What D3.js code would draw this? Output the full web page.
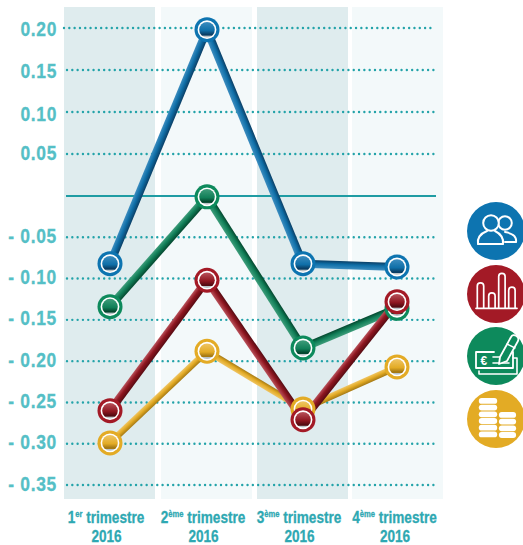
<!DOCTYPE html>
<html><head><meta charset="utf-8">
<script src="https://cdn.jsdelivr.net/npm/d3@7"></script>
<style>
html,body{margin:0;padding:0;background:#fff;overflow:hidden}
svg{display:block}
text{font-family:"Liberation Sans",Arial,sans-serif;font-weight:700}
</style></head><body><div id="c"></div>
<script>
const quarters=["T1","T2","T3","T4"];
const quarterNum=["1","2","3","4"];
const quarterSup=["er","ème","ème","ème"];
const yearLabel="2016";
const ticks=[0.20,0.15,0.10,0.05,-0.05,-0.10,-0.15,-0.20,-0.25,-0.30,-0.35];
const blueVals=[-0.082,0.198,-0.082,-0.086];
const greenVals=[-0.134,-0.001,-0.184,-0.136];
const redVals=[-0.26,-0.102,-0.271,-0.128];
const goldVals=[-0.299,-0.188,-0.258,-0.207];
const seriesOrder=[
 {k:"gold",v:goldVals,c:"#e3ab25",l:"#efc564",d:"#a67a14",w:6.5,r:"#e3ab25"},
 {k:"green",v:greenVals,c:"#117f58",l:"#3f9d7b",d:"#04482f",w:8,r:"#0d8a5c"},
 {k:"blue",v:blueVals,c:"#0f6fa8",l:"#3d8dbf",d:"#0a3f66",w:8,r:"#0d74b0"},
 {k:"red",v:redVals,c:"#8e1620",l:"#b9525b",d:"#560b12",w:8,r:"#a31a26"}
];
const W=523,H=545;
const svg=d3.select("#c").append("svg").attr("width",W).attr("height",H);
const defs=svg.append("defs");
const x=d3.scaleOrdinal().domain(quarters).range([110,207,303,397]);
const bandX=d3.scaleOrdinal().domain(quarters).range([64,161,257,352]);
const y=d3.scaleLinear().domain([-0.35,0,0.2]).range([485,196,28]);
const labelY=d3.scaleLinear().domain([-0.35,-0.05,0.05,0.1,0.2]).range([483,235,152,113,28]);
const bandFill=["#dfecee","#f3f9fa","#dfecee","#f3f9fa"];
svg.selectAll(".b").data(quarters).join("rect")
 .attr("x",d=>bandX(d)).attr("width",91).attr("y",7).attr("height",492)
 .attr("fill",(d,i)=>bandFill[i]);
const dot=d3.format(".2f");
const narrow=(px,py,anchor,size,fill,sx)=>svg.append("text")
 .attr("transform",`translate(${px},${py}) scale(${sx},1)`)
 .attr("text-anchor",anchor).attr("font-size",size).attr("fill",fill)
 .attr("stroke",fill).attr("stroke-width",0.3);
ticks.forEach(t=>{
 svg.append("line").attr("x1",t===0.2?64:67).attr("x2",435).attr("y1",y(t)).attr("y2",y(t))
  .attr("stroke","#23a3a9").attr("stroke-width",2.4).attr("stroke-linecap","round").attr("stroke-dasharray","0.01 5.3");
 narrow(57,labelY(t)+7.5,"end",20.5,"#55bfc6",0.85).attr("letter-spacing",0.8)
  .text((t<0?"- ":"")+dot(Math.abs(t)));
});
svg.append("line").attr("x1",66).attr("x2",436).attr("y1",y(0)).attr("y2",y(0)).attr("stroke","#1f9ca3").attr("stroke-width",2);
quarters.forEach((q,i)=>{
 const cx=[106,203,299,394.5][i];
 const t=narrow(cx,523,"middle",17,"#2ea8b2",0.8);
 t.append("tspan").text(quarterNum[i]);
 t.append("tspan").attr("font-size",9.5).attr("dy",-6).text(quarterSup[i]);
 t.append("tspan").attr("dy",6).text(" trimestre");
 narrow(cx+0.5,541.5,"middle",17,"#2ea8b2",0.8).text(yearLabel);
});
const layer=svg.append("g");
seriesOrder.forEach(s=>{
 const pts=s.v.map((v,i)=>[x(quarters[i]),y(v)]);
 d3.pairs(pts).forEach(([a,b],i)=>{
  const dx=b[0]-a[0],dy=b[1]-a[1],L=Math.hypot(dx,dy),nx=-dy/L,ny=dx/L,mx=(a[0]+b[0])/2,my=(a[1]+b[1])/2,hw=s.w/2;
  const id=`g-${s.k}-${i}`;
  const g=defs.append("linearGradient").attr("id",id).attr("gradientUnits","userSpaceOnUse")
   .attr("x1",mx-nx*hw).attr("y1",my-ny*hw).attr("x2",mx+nx*hw).attr("y2",my+ny*hw);
  const flip=s.k==="green"&&i===2;
  const first=(dy>0)!==flip?s.d:s.l, last=(dy>0)!==flip?s.l:s.d;
  g.append("stop").attr("offset",0).attr("stop-color",first);
  g.append("stop").attr("offset",.45).attr("stop-color",s.c);
  g.append("stop").attr("offset",1).attr("stop-color",last);
  layer.append("line").attr("x1",a[0]).attr("y1",a[1]).attr("x2",b[0]).attr("y2",b[1])
   .attr("stroke",`url(#${id})`).attr("stroke-width",s.w);
 });
});
seriesOrder.forEach(s=>{
 const id=`m-${s.k}`;
 const g=defs.append("linearGradient").attr("id",id).attr("x1",0).attr("y1",0).attr("x2",0).attr("y2",1);
 [[0,s.l],[.55,s.c],[.8,s.d],[.86,s.d],[.9,"#b9c2c6"],[1,"#b9c2c6"]].forEach(([o,c])=>g.append("stop").attr("offset",o).attr("stop-color",c));
 s.v.forEach((v,i)=>{
  const m=layer.append("g").attr("transform",`translate(${x(quarters[i])},${y(v)})`);
  m.append("circle").attr("r",12.5).attr("fill",s.r);
  m.append("circle").attr("r",9.4).attr("fill","#fff");
  m.append("circle").attr("r",7.8).attr("fill",`url(#${id})`);
 });
});
const iconY=[231,294,356,419];
const iconC=["#0d74b0","#a31a26","#0d8a5c","#e3ab25"];
const ic=svg.selectAll(".ic").data(iconY).join("g").attr("transform",d=>`translate(496,${d})`);
ic.append("circle").attr("r",29).attr("fill",(d,i)=>iconC[i]);
const line=(g,d,w=1.8,f="none")=>g.append("path").attr("d",d).attr("fill",f).attr("stroke","#fff").attr("stroke-width",w).attr("stroke-linejoin","round").attr("stroke-linecap","round");
const p=d3.select(ic.nodes()[0]);
line(p,"M9 1 C15 2 21 5 20 11 H9",2);
p.append("circle").attr("cx",9).attr("cy",-8).attr("r",6.8).attr("fill","#0d74b0").attr("stroke","#fff").attr("stroke-width",2);
line(p,"M-9 0 C-14 2 -19 6 -18 13 H7 C8 6 3 2 -1 0",2,"#0d74b0");
p.append("circle").attr("cx",-5).attr("cy",-8).attr("r",7.8).attr("fill","#0d74b0").attr("stroke","#fff").attr("stroke-width",2);
const b=d3.select(ic.nodes()[1]);
[[-18.7,-8],[-7.3,2],[2.7,-17.5],[12.7,-3.7]].forEach(([rx,top])=>{
 line(b,`M${rx} 14 V${top} a3.2 3.2 0 0 1 6.4 0 V14`,1.7);
});
line(b,"M-20 14.3 H21",1.7);
const c=d3.select(ic.nodes()[2]);
line(c,"M-20 -4 H-2 M9 -4 H17 V12 H-20 V-4",1.8);
line(c,"M-17 15 V18 H21 V2 H17",1.6);
line(c,"M-3 1 H4 M-3 7 H13",1.6);
c.append("text").attr("x",-15.5).attr("y",8.5).attr("font-size",12).attr("fill","#fff").text("€");
line(c,"M3 8 L4 1 L15 -19 C17 -23 24 -20 22 -15 L11 5 Z",1.8,"#0d8a5c");
line(c,"M11 -12 L19 -8",1.4);
const g4=d3.select(ic.nodes()[3]);
const stack=(cx,top,n,rx)=>{for(let i=0;i<n;i++){
 g4.append("rect").attr("x",cx-rx).attr("y",top+i*6.7).attr("width",rx*2).attr("height",5.8).attr("rx",2.9).attr("fill","#fff");}};
stack(-8,-21,6,9.2); stack(11.5,-7,4,8.6);
</script></body></html>
